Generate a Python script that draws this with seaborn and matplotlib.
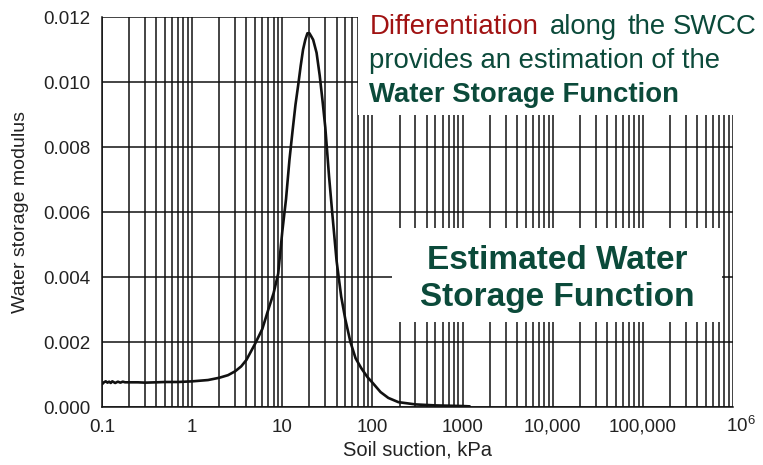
import numpy as np
import pandas as pd
import matplotlib
matplotlib.use("Agg")
import matplotlib.pyplot as plt
from matplotlib.patches import Rectangle
from matplotlib.ticker import FixedLocator, NullLocator
from matplotlib.transforms import ScaledTranslation
import seaborn as sns

# Datos (succion en kPa, modulo de almacenamiento)
succion = [0.1, 0.105, 0.11, 0.115, 0.12, 0.125, 0.13, 0.14, 0.15, 0.16, 0.17, 0.18, 0.2,
           0.25, 0.3, 0.4, 0.5, 0.7, 1.0, 1.5, 2.0, 2.5, 3.0, 3.5, 4.0, 5.0, 6.0, 7.0,
           8.0, 9.0, 10, 11, 12, 13, 14, 15, 16, 17, 18, 19, 20, 21, 22, 24, 26, 28,
           30, 33, 36, 40, 45, 50, 57, 65, 75, 88, 100, 123, 150, 194, 300, 500, 1000, 1200]
modulo = [0.00070, 0.00076, 0.00079, 0.00075, 0.00078, 0.00074, 0.00079, 0.00074, 0.00078,
          0.00075, 0.00078, 0.00076, 0.00076, 0.00076, 0.00075, 0.00076, 0.00077, 0.00077,
          0.00079, 0.00083, 0.00090, 0.00098, 0.00110, 0.00125, 0.00145, 0.00195, 0.0024,
          0.0030, 0.0035, 0.0041, 0.0054, 0.0064, 0.0076, 0.0085, 0.0093, 0.0099, 0.0105,
          0.0110, 0.0113, 0.0115, 0.0115, 0.0114, 0.0113, 0.0109, 0.0102, 0.0094, 0.0086,
          0.0071, 0.0059, 0.0045, 0.0034, 0.0027, 0.0020, 0.0015, 0.0012, 0.00092, 0.00075,
          0.00046, 0.00028, 0.00015, 0.00008, 0.00005, 0.00003, 0.00002]

xticks = [0.1, 1, 10, 100, 1000, 1e4, 1e5, 1e6]
xticklabels = ['0.1', '1', '10', '100', '1000', '10,000', '100,000', r'$\mathregular{10^6}$']
yticks = [0.0, 0.002, 0.004, 0.006, 0.008, 0.010, 0.012]
yticklabels = ['0.000', '0.002', '0.004', '0.006', '0.008', '0.010', '0.012']

df = pd.DataFrame({'Succion': succion, 'Modulo': modulo})

sns.set_style('white')
plt.rcParams['font.family'] = ['Liberation Sans', 'DejaVu Sans']
plt.rcParams['mathtext.fontset'] = 'custom'
plt.rcParams['mathtext.rm'] = 'Liberation Sans'

fig = plt.figure(figsize=(7.63, 4.65), dpi=100)
ax = fig.add_axes([0.1337, 0.1247, 0.827, 0.8387])

sns.lineplot(data=df, x='Succion', y='Modulo', ax=ax, color='#111111', linewidth=1.9,
             zorder=4)

ax.set_xscale('log')
ax.set_xlim(0.1, 1e6)
ax.set_ylim(0, 0.012)

# Rejilla: lineas verticales en cada subdivision logaritmica
minor = [m * 10.0 ** e for e in range(-1, 6) for m in range(2, 10)]
ax.xaxis.set_major_locator(FixedLocator(xticks))
ax.xaxis.set_minor_locator(FixedLocator(minor))
ax.yaxis.set_major_locator(FixedLocator(yticks))
ax.yaxis.set_minor_locator(NullLocator())
ax.set_xticklabels(xticklabels)
ax.set_yticklabels(yticklabels)
ax.grid(True, which='both', axis='x', color='#111111', linewidth=1.1)
ax.grid(True, which='major', axis='y', color='#111111', linewidth=1.1)
ax.set_axisbelow('line')

ax.tick_params(axis='both', which='major', direction='out', length=4, width=1.1,
               color='#111111', labelsize=13.5, labelcolor='#222222', pad=4.5)
ax.tick_params(axis='x', which='minor', length=0)
for s in ['top', 'right']:
    ax.spines[s].set_visible(False)
for s in ['left', 'bottom']:
    ax.spines[s].set_color('#111111')
    ax.spines[s].set_linewidth(1.1)

# la etiqueta 10^6 va un poco corrida a la derecha y arriba
ult = ax.get_xticklabels()[-1]
ult.set_transform(ult.get_transform() + ScaledTranslation(8 / 100, 3 / 100, fig.dpi_scale_trans))

ax.set_xlabel('Soil suction, kPa', fontsize=14.5, color='#222222', labelpad=3)
ax.set_ylabel('Water storage modulus', fontsize=14, color='#222222', labelpad=10)

# Recuadros blancos para los textos
for x0, y0, w, h in [(0.469, 0.7527, 0.531, 0.2473), (0.5138, 0.3075, 0.4325, 0.2022)]:
    ax.add_patch(Rectangle((x0, y0), w, h, transform=fig.transFigure, facecolor='white',
                           edgecolor='none', zorder=3, clip_on=False))

rojo = '#a01212'
verde = '#0b4a3a'
fs = 19.8
fig.text(370 / 763, 1 - 34 / 465, 'Differentiation', color=rojo, fontsize=fs, ha='left',
         va='baseline', zorder=5)
for palabra, xp in [('along', 550), ('the', 628), ('SWCC', 673)]:
    fig.text(xp / 763, 1 - 34 / 465, palabra, color=verde, fontsize=fs, ha='left',
             va='baseline', zorder=5)
fig.text(369 / 763, 1 - 68 / 465, 'provides an estimation of the', color=verde, fontsize=fs,
         ha='left', va='baseline', zorder=5)
fig.text(369 / 763, 1 - 102 / 465, 'Water Storage Function', color=verde, fontsize=fs,
         fontweight='bold', ha='left', va='baseline', zorder=5)
fig.text(557 / 763, 1 - 269 / 465, 'Estimated Water', color=verde, fontsize=24,
         fontweight='bold', ha='center', va='baseline', zorder=5)
fig.text(557 / 763, 1 - 306 / 465, 'Storage Function', color=verde, fontsize=24,
         fontweight='bold', ha='center', va='baseline', zorder=5)

fig.savefig('out.png', dpi=100)
